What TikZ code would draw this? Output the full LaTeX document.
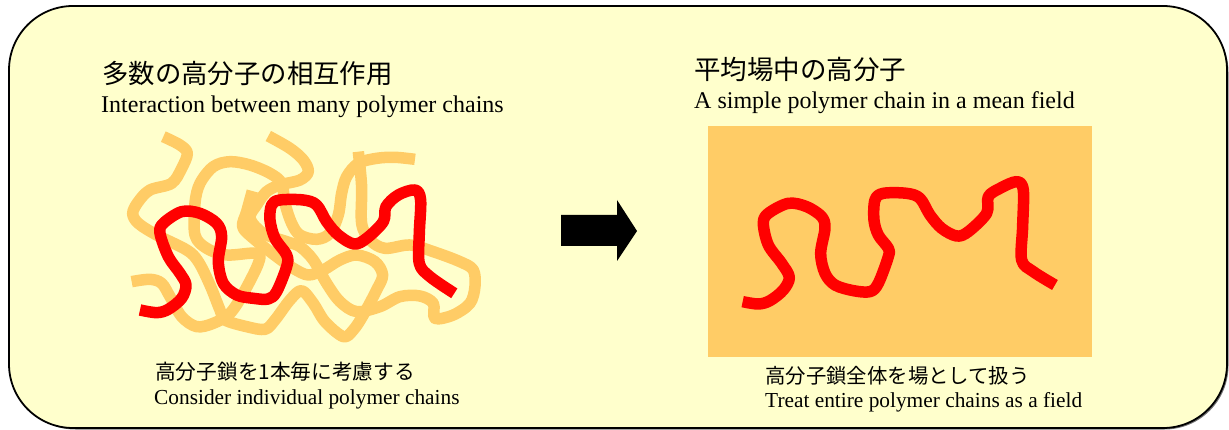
\documentclass[tikz,border=0pt]{standalone}
\usepackage{fontspec}
\setmainfont{Liberation Serif}
\newfontfamily\jpfont{Noto Sans CJK JP}
\definecolor{panelfill}{HTML}{FFFFCC}
\definecolor{fieldfill}{HTML}{FFCC66}
\definecolor{chainred}{HTML}{FF0000}
\newcommand{\jptext}[2]{{\jpfont\fontsize{#1}{#1}\selectfont #2}}
\newcommand{\entext}[2]{{\fontsize{#1}{#1}\selectfont #2}}
\tikzset{
  x=1pt, y=-1pt,
  label text/.style={anchor=base west, inner sep=0pt, text=black},
  chain/.style={line width=11.5pt, line cap=butt, line join=round, smooth, tension=0.55},
  pale chain/.style={chain, draw=fieldfill},
  red chain/.style={chain, draw=chainred},
}
\begin{document}
\begin{tikzpicture}
\useasboundingbox (0,0) rectangle (1229,430);
% rounded panel with a thin drop shadow
\fill[black!55] (11.5,8.5) [rounded corners=64pt] -- (1228.5,8.5) -- (1228.5,429.5) -- (11.5,429.5) -- cycle;
\draw[fill=panelfill, draw=black, line width=1.8pt, rounded corners=64pt]
  (9,6) -- (1227,6) -- (1227,428) -- (9,428) -- cycle;

% headings and captions
\node[label text] (titleL) at (102,84) {\jptext{26.4}{多数の高分子の相互作用}};
\node[label text] (subL) at (101,113) {\entext{24}{Interaction between many polymer chains}};
\node[label text] (capJL) at (155,379) {\jptext{20.7}{高分子鎖を1本毎に考慮する}};
\node[label text] (capEL) at (154,404) {\entext{21.35}{Consider individual polymer chains}};
\node[label text] (titleR) at (694,80) {\jptext{26.5}{平均場中の高分子}};
\node[label text] (subR) at (694,109) {\entext{24}{A simple polymer chain in a mean field}};
\node[label text] (capJR) at (765,383) {\jptext{20.4}{高分子鎖全体を場として扱う}};
\node[label text] (capER) at (765,407) {\entext{21.35}{Treat entire polymer chains as a field}};

% surrounding polymer chains
\begin{scope}[shift={(100,120)}, x=0.3333pt, y=-0.3333pt]
\draw[pale chain] plot coordinates {(190,50)(240,75)(262,100)(245,145)(215,190)(150,210)(115,245)(98,280)(115,310)(170,345)(260,390)(295,425)(330,495)(360,570)(375,600)(440,620)(495,628)(525,600)(570,540)(605,512)(640,550)(675,605)(730,650)(760,630)(790,585)(830,510)(848,465)(825,425)(770,405)(720,420)(670,450)(625,465)(580,445)(530,410)(460,355)(428,320)(440,275)(457,213)};
\draw[pale chain] plot coordinates {(95,485)(150,478)(185,490)(210,530)(245,590)(290,620)(340,610)(390,580)(430,520)(475,430)(470,400)(380,405)(320,385)(285,345)(285,250)(300,190)(340,140)(390,125)(450,135)(510,160)(545,190)(555,250)(575,310)(600,345)(650,358)(690,340)(715,285)(725,220)(740,170)(775,130)(830,115)(885,112)(945,118)};
\draw[pale chain] plot coordinates {(505,48)(570,85)(610,120)(625,155)(600,180)(540,195)(500,215)(470,255)(450,295)(490,340)(560,365)(600,380)(640,420)(680,490)(720,545)(770,575)(840,560)(900,530)(960,528)(1000,550)(1005,595)(1060,585)(1110,550)(1125,500)(1120,450)(1080,425)(1000,395)(930,375)(855,385)(810,360)(785,310)(785,200)(775,95)};
% the chain being followed
\draw[red chain] plot coordinates {(120,570)(170,578)(205,568)(245,535)(258,495)(240,460)(205,410)(180,340)(190,310)(245,275)(300,280)(350,310)(365,350)(355,425)(370,490)(410,525)(460,535)(505,537)(530,515)(560,440)(560,405)(525,355)(510,300)(515,255)(540,240)(610,240)(650,255)(680,305)(715,345)(762,372)(800,355)(850,305)(858,260)(895,225)(945,210)(962,240)(958,340)(958,430)(990,470)(1063,520)};
\end{scope}

% transition arrow
\fill[black] (561,215) -- (617,215) -- (617,200) -- (637,231) -- (617,261) -- (617,246) -- (561,246) -- cycle;

% mean field and the single chain inside it
\fill[fieldfill] (708,126) rectangle (1092,357);
\begin{scope}[shift={(700,160)}, x=0.3333pt, y=-0.3333pt]
\draw[red chain] plot coordinates {(128,425)(175,432)(210,422)(250,390)(268,352)(245,310)(205,255)(190,190)(205,160)(265,130)(320,140)(365,170)(375,205)(362,280)(375,340)(405,375)(460,392)(510,395)(535,370)(565,290)(565,265)(535,225)(522,180)(525,120)(550,100)(620,100)(660,115)(690,165)(725,205)(770,228)(805,215)(860,160)(865,110)(900,85)(950,65)(970,90)(968,200)(965,300)(1000,335)(1065,375)};
\end{scope}
\end{tikzpicture}
\end{document}
